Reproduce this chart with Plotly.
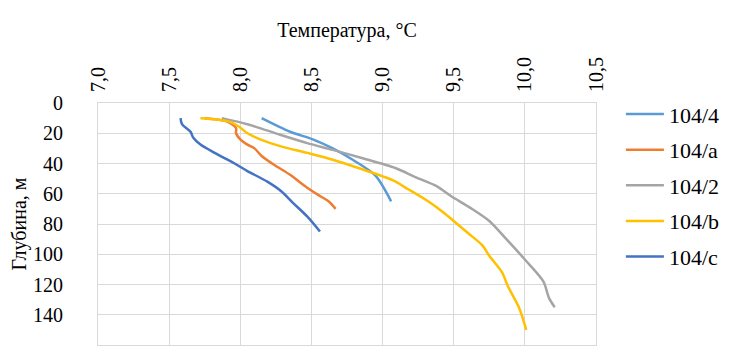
import plotly.graph_objects as go

names = ["104/4", "104/a", "104/2", "104/b", "104/c"]
colors = ["#5B9BD5", "#ED7D31", "#A5A5A5", "#FFC000", "#4472C4"]

t_104_4 = [8.15, 8.35, 8.51, 8.65, 8.79, 8.95, 9.06]
d_104_4 = [10, 19, 24, 30, 37.5, 48, 65]

t_104_a = [7.75, 7.90, 7.97, 7.97, 8.00, 8.05, 8.10, 8.15, 8.24, 8.35, 8.47, 8.56, 8.62, 8.67]
d_104_a = [10, 12, 16.5, 20, 24, 27.5, 30, 35, 41, 47.5, 56, 61.5, 65, 70]

t_104_2 = [7.87, 8.05, 8.28, 8.47, 8.65, 8.86, 9.09, 9.23, 9.38, 9.48, 9.62, 9.75, 9.87, 10.00, 10.13, 10.17, 10.21]
d_104_2 = [10, 14, 21, 26.5, 31, 36.5, 43, 49, 55, 61.5, 69.5, 78, 90, 103.5, 118, 129, 135]

t_104_b = [7.72, 7.91, 7.99, 8.05, 8.14, 8.28, 8.47, 8.65, 8.83, 9.07, 9.18, 9.32, 9.43, 9.50, 9.60, 9.70, 9.75, 9.84, 9.88, 9.96, 10.01]
d_104_b = [10, 12, 15.5, 20, 24, 28.5, 33, 37.5, 43, 51, 57, 65, 72.5, 78, 86, 94, 101, 112, 121, 135.5, 150]

t_104_c = [7.58, 7.59, 7.65, 7.67, 7.72, 7.82, 7.96, 8.05, 8.19, 8.29, 8.37, 8.47, 8.56]
d_104_c = [10, 14, 19, 23, 27.5, 33, 40, 45, 52, 58.5, 66, 75, 85]

x_ticks = [7.0, 7.5, 8.0, 8.5, 9.0, 9.5, 10.0, 10.5]
y_ticks = [0, 20, 40, 60, 80, 100, 120, 140, 160]

series_t = [t_104_4, t_104_a, t_104_2, t_104_b, t_104_c]
series_d = [d_104_4, d_104_a, d_104_2, d_104_b, d_104_c]

FONT = "'Liberation Serif', 'Times New Roman', serif"
GRID = "#d9d9d9"

fig = go.Figure()
for n, c, t, d in zip(names, colors, series_t, series_d):
    fig.add_trace(go.Scatter(
        x=t, y=d, name=n, mode="lines", legendgroup=n,
        line=dict(color=c, width=2.5, shape="spline", smoothing=0.8),
    ))

# page body has an 8px margin, so the figure is sized/offset to compensate
fig.update_layout(
    width=722, height=342,
    margin=dict(l=90, r=128, t=95, b=5),
    paper_bgcolor="white", plot_bgcolor="white",
    separators=", ",
    font=dict(family=FONT, size=19, color="#000000"),
    legend=dict(x=1.05, y=0.66, xanchor="left", yanchor="middle",
                font=dict(family=FONT, size=22, color="#000000"),
                tracegroupgap=4, itemwidth=38, bgcolor="rgba(0,0,0,0)"),
    xaxis=dict(
        side="top", range=[7.0, 10.5], tickvals=x_ticks, tickformat=".1f",
        tickangle=-90, showgrid=True, gridcolor=GRID, gridwidth=1,
        showline=True, linecolor=GRID, mirror=True, zeroline=False,
        ticks="", ticklabelstandoff=6, automargin=False,
        title=dict(text="Температура, °C", standoff=14,
                   font=dict(family=FONT, size=20)),
        tickfont=dict(family=FONT, size=20),
    ),
    yaxis=dict(
        range=[160, 0], tickvals=y_ticks,
        showgrid=True, gridcolor=GRID, gridwidth=1,
        showline=True, linecolor=GRID, mirror=True, zeroline=False,
        ticks="", ticklabelstandoff=30, automargin=False,
        title=dict(text="Глубина, м", standoff=11,
                   font=dict(family=FONT, size=20)),
        tickfont=dict(family=FONT, size=20),
    ),
)

fig.write_html("out.html")
